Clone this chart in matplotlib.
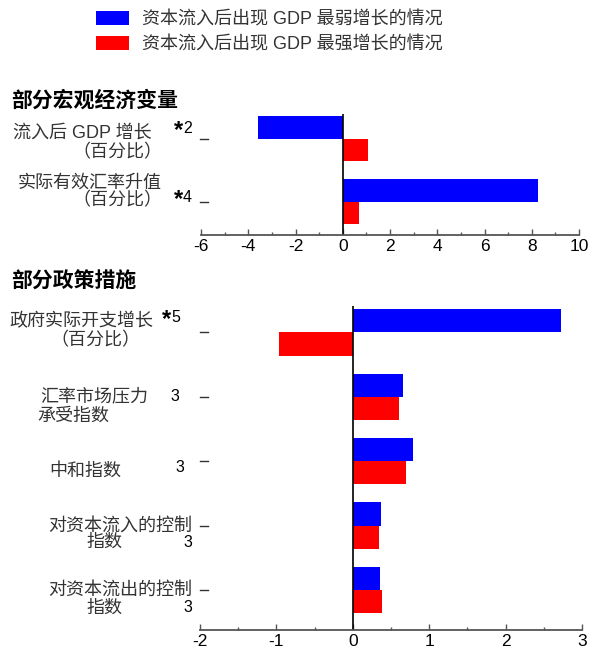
import matplotlib
matplotlib.use("Agg")
import matplotlib.pyplot as plt
import matplotlib.transforms as mtransforms
from matplotlib.patches import Patch
import numpy as np

plt.rcParams['font.family'] = ['Liberation Sans', 'Noto Sans CJK SC', 'DejaVu Sans']

# ---------------------------
# Data
# ---------------------------
legend_labels = ["资本流入后出现 GDP 最弱增长的情况", "资本流入后出现 GDP 最强增长的情况"]
colors = ["#0000ff", "#ff0000"]

macro_weak = [-3.6, 8.25]
macro_strong = [1.07, 0.70]
macro_ticks = [-6, -4, -2, 0, 2, 4, 6, 8, 10]

policy_weak = [2.73, 0.66, 0.79, 0.37, 0.36]
policy_strong = [-0.96, 0.60, 0.69, 0.345, 0.385]
policy_ticks = [-2, -1, 0, 1, 2, 3]

# label pieces: (text, x in fig px, y offset from tick in px, ha)
macro_labels = [
    [("流入后 GDP 增长", 152, -5, "right"), ("（百分比）", 162, 14, "right")],
    [("实际有效汇率升值", 162, -18, "right"), ("（百分比）", 162, -1, "right")],
]
macro_notes = [("*", "2"), ("*", "4")]
macro_note_dy = [-10, -4]

policy_labels = [
    [("政府实际开支增长", 153, -11, "right"), ("（百分比）", 140, 8, "right")],
    [("汇率市场压力", 40, 0, "left"), ("承受指数", 37, 19, "left")],
    [("中和指数", 49, 10, "left")],
    [("对资本流入的控制", 192, 1, "right"), ("指数", 86, 17, "left")],
    [("对资本流出的控制", 192, 0, "right"), ("指数", 86, 18, "left")],
]
policy_notes = [("*", "5"), ("", "3"), ("", "3"), ("", "3"), ("", "3")]
policy_note_xy = [(180, -15), (179, 0), (184, 6), (192, 17), (192, 17)]

W, H = 599, 650
fig = plt.figure(figsize=(W / 100, H / 100), dpi=100)


def px_axes(left, top, right, bottom):
    return fig.add_axes([left / W, 1 - bottom / H, (right - left) / W, (bottom - top) / H])


def draw_panel(ax, weak, strong, ticks, minor_step, ylim, labels, notes, note_xy):
    n = len(weak)
    y = np.arange(n)
    h = 0.36
    ax.barh(y - h / 2, weak, height=h, color=colors[0], linewidth=0)
    ax.barh(y + h / 2, strong, height=h, color=colors[1], linewidth=0)
    ax.axvline(0, color="black", linewidth=1.2)
    ax.set_xlim(ticks[0], ticks[-1])
    ax.set_ylim(*ylim)
    ax.set_xticks(ticks)
    ax.set_xticks(np.arange(ticks[0], ticks[-1] + 1e-9, minor_step), minor=True)
    ax.set_xticklabels([str(t) for t in ticks], fontsize=12.5)
    ax.tick_params(axis="x", which="major", direction="in", length=4, width=1, color="#555555", pad=3)
    ax.tick_params(axis="x", which="minor", direction="in", length=2.5, width=1, color="#555555")
    ax.set_yticks(y)
    ax.set_yticklabels([])
    ax.tick_params(axis="y", direction="out", length=0)
    for s in ["top", "right", "left"]:
        ax.spines[s].set_visible(False)
    ax.spines["bottom"].set_color("#555555")
    ax.spines["bottom"].set_linewidth(1.3)
    # short dash markers next to each category
    trans = mtransforms.blended_transform_factory(fig.transFigure, ax.transData)
    for yi in y:
        ax.plot([200 / W, 208 / W], [yi, yi], color="#333333", linewidth=1, transform=trans, clip_on=False)

    def put(txt, xp, yi, dy, ha, **kw):
        off = mtransforms.offset_copy(trans, fig=fig, x=0, y=-dy * 0.72, units="points")
        ax.text(xp / W, yi, txt, ha=ha, va="center", transform=off, clip_on=False, **kw)

    # category labels
    for yi, parts in zip(y, labels):
        for txt, xp, dy, ha in parts:
            put(txt, xp, yi, dy, ha, fontsize=13, color="#333333")
    # footnote markers
    for yi, (star, num), (xp, dy) in zip(y, notes, note_xy):
        put(num, xp, yi, dy, "right", fontsize=11.5, color="black")
        if star:
            put(star, xp - 9, yi, dy + 2, "right", fontsize=17, fontweight="bold", color="black")


ax1 = px_axes(201, 114, 579, 235)
draw_panel(ax1, macro_weak, macro_strong, macro_ticks, 1, (1.53, -0.39),
           macro_labels, macro_notes, [(192, d) for d in macro_note_dy])

ax2 = px_axes(200, 306, 582, 630)
draw_panel(ax2, policy_weak, policy_strong, policy_ticks, 0.5, (4.62, -0.41),
           policy_labels, policy_notes, policy_note_xy)

fig.text(11 / W, 1 - 100 / H, "部分宏观经济变量", fontsize=15, fontweight="bold", va="center", ha="left")
fig.text(11 / W, 1 - 282 / H, "部分政策措施", fontsize=15, fontweight="bold", va="center", ha="left")

handles = [Patch(facecolor=c, edgecolor="none") for c in colors]
fig.legend(handles, legend_labels, loc="upper left", bbox_to_anchor=(87 / W, 1 - 2 / H),
           frameon=False, fontsize=13, borderpad=0, handlelength=1.85, handleheight=0.85,
           handletextpad=0.7, labelspacing=0.4, labelcolor="#333333")

fig.savefig("out.png", dpi=100)
